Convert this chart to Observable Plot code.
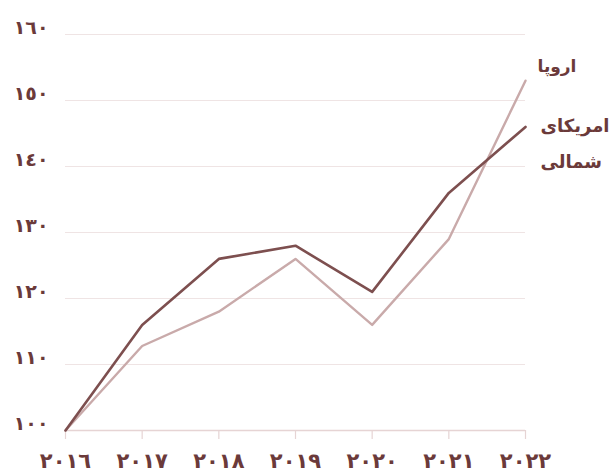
<!DOCTYPE html>
<html>
<head>
<meta charset="utf-8">
<script src="https://cdn.jsdelivr.net/npm/d3@7"></script>
<script src="https://cdn.jsdelivr.net/npm/@observablehq/plot@0.6"></script>
<style>
  html, body { margin: 0; padding: 0; background: #fff; }
  #chart svg { display: block; }
</style>
</head>
<body>
<div id="chart"></div>
<script>
const years = [2016, 2017, 2018, 2019, 2020, 2021, 2022];
const yearLabels = ["٢٠١٦", "٢٠١٧", "٢٠١٨", "٢٠١٩", "٢٠٢٠", "٢٠٢١", "٢٠٢٢"];
const europe = [100, 112.8, 118, 126, 116, 129, 153];
const northAmerica = [100, 116, 126, 128, 121, 136, 146];
const yTicks = [100, 110, 120, 130, 140, 150, 160];
const yTickLabels = ["١٠٠", "١١٠", "١٢٠", "١٣٠", "١٤٠", "١٥٠", "١٦٠"];
const seriesNames = ["اروپا", "امریکای\nشمالی"];

const toArabic = new Map(yTicks.map((t, i) => [t, yTickLabels[i]]));
const yearFmt = new Map(years.map((t, i) => [t, yearLabels[i]]));

const euData = years.map((y, i) => ({year: y, value: europe[i]}));
const naData = years.map((y, i) => ({year: y, value: northAmerica[i]}));
const lastIdx = years.length - 1;

const textColor = "#6b3a3a";
const darkLine = "#7d4f4f";
const lightLine = "#c9aaaa";
const gridColor = "#efe4e4";
const axisColor = "#e6d4d4";

const chart = Plot.plot({
  width: 614,
  height: 476,
  marginLeft: 65,
  marginRight: 89,
  marginTop: 34,
  marginBottom: 46,
  style: {fontFamily: "DejaVu Sans", background: "#fff", color: textColor},
  x: {domain: [2016, 2022], label: null},
  y: {domain: [100, 160], label: null},
  marks: [
    Plot.gridY(yTicks.slice(1), {stroke: gridColor, strokeOpacity: 1, strokeWidth: 1.2}),
    Plot.ruleY([100], {stroke: axisColor, strokeWidth: 1.5}),
    Plot.axisY({ticks: yTicks, tickFormat: d => toArabic.get(d), tickSize: 0, tickPadding: 17, dy: -7, fontSize: 19, fontWeight: "bold", fill: textColor, label: null}),
    Plot.axisX({ticks: years, tickFormat: d => yearFmt.get(d), tickSize: 9, stroke: axisColor, strokeOpacity: 1, strokeWidth: 1.2, tickPadding: 14, fontSize: 21, fontWeight: "bold", fill: textColor, label: null}),
    Plot.line(euData, {x: "year", y: "value", stroke: lightLine, strokeWidth: 2.4}),
    Plot.line(naData, {x: "year", y: "value", stroke: darkLine, strokeWidth: 2.6}),
    Plot.text([euData[lastIdx]], {x: "year", y: "value", text: () => seriesNames[0], dx: 12, dy: -14, textAnchor: "start", fontSize: 17, fontWeight: "bold", fill: textColor}),
    Plot.text([naData[lastIdx]], {x: "year", y: "value", text: () => seriesNames[1], dx: 15, dy: 12, textAnchor: "start", fontSize: 18, fontWeight: "bold", fill: textColor, lineHeight: 2})
  ]
});
document.getElementById("chart").appendChild(chart);
</script>
</body>
</html>
